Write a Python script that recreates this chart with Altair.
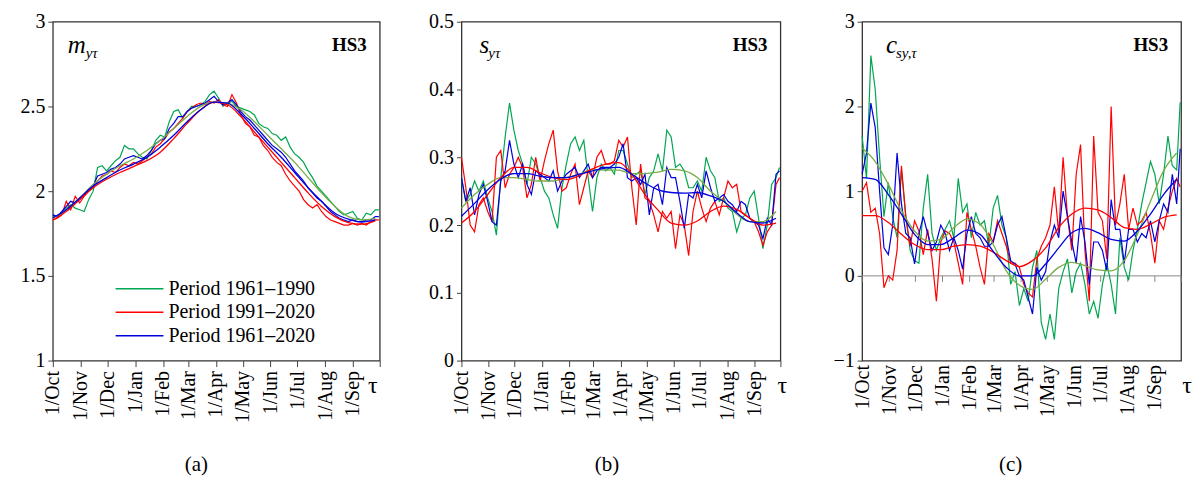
import altair as alt
import pandas as pd

# ---------------- data ----------------
DAYS = list(range(0, 361, 5)) + [364]          # day index from 1 Oct
SM_DAYS = list(range(0, 361, 15))
MONTH_DAYS = [0, 31, 61, 92, 123, 151, 182, 212, 243, 273, 304, 335, 365]
MONTH_LABELS = ["1/Oct", "1/Nov", "1/Dec", "1/Jan", "1/Feb", "1/Mar", "1/Apr",
                "1/May", "1/Jun", "1/Jul", "1/Aug", "1/Sep", ""]
PERIODS = ["Period 1961\u20131990", "Period 1991\u20132020", "Period 1961\u20132020"]

# panel (a) m_y
A_GREEN = [1.86, 1.85, 1.87, 1.90, 1.92, 1.90, 1.89, 1.88, 1.95, 2.00,
           2.14, 2.15, 2.12, 2.15, 2.18, 2.20, 2.27, 2.25, 2.25, 2.22,
           2.20, 2.19, 2.24, 2.30, 2.33, 2.32, 2.41, 2.47, 2.48, 2.43,
           2.47, 2.50, 2.50, 2.51, 2.53, 2.57, 2.59, 2.55, 2.50, 2.52,
           2.53, 2.50, 2.49, 2.48, 2.47, 2.45, 2.40, 2.38, 2.37, 2.34,
           2.33, 2.30, 2.32, 2.26, 2.22, 2.20, 2.17, 2.12, 2.08, 2.03,
           2.00, 1.97, 1.94, 1.91, 1.88, 1.86, 1.87, 1.88, 1.84, 1.83,
           1.87, 1.86, 1.89, 1.89]
A_RED = [1.83, 1.84, 1.86, 1.94, 1.89, 1.97, 1.93, 1.97, 2.00, 2.02,
         2.06, 2.09, 2.10, 2.12, 2.11, 2.14, 2.16, 2.15, 2.17, 2.16,
         2.18, 2.20, 2.22, 2.26, 2.28, 2.31, 2.35, 2.37, 2.40, 2.43,
         2.47, 2.49, 2.51, 2.52, 2.51, 2.53, 2.52, 2.54, 2.51, 2.50,
         2.57, 2.52, 2.45, 2.40, 2.38, 2.33, 2.32, 2.27, 2.24, 2.20,
         2.17, 2.15, 2.10, 2.06, 2.03, 2.00, 1.95, 1.92, 1.90, 1.92,
         1.88, 1.85, 1.83, 1.82, 1.81, 1.80, 1.80, 1.81, 1.80, 1.81,
         1.80, 1.82, 1.83, 1.83]
A_BLUE = [1.86, 1.85, 1.88, 1.91, 1.94, 1.93, 1.95, 1.98, 2.01, 2.03,
          2.09, 2.10, 2.11, 2.13, 2.14, 2.16, 2.19, 2.20, 2.21, 2.20,
          2.19, 2.21, 2.24, 2.28, 2.30, 2.31, 2.37, 2.40, 2.44, 2.44,
          2.47, 2.49, 2.50, 2.51, 2.52, 2.54, 2.56, 2.53, 2.51, 2.52,
          2.54, 2.51, 2.47, 2.44, 2.42, 2.39, 2.36, 2.33, 2.30, 2.27,
          2.25, 2.23, 2.20, 2.16, 2.12, 2.09, 2.06, 2.02, 1.99, 1.96,
          1.94, 1.91, 1.88, 1.86, 1.84, 1.83, 1.82, 1.83, 1.82, 1.82,
          1.83, 1.83, 1.85, 1.85]
A_GREEN_S = [1.84, 1.89, 1.96, 2.04, 2.10, 2.15, 2.19, 2.24, 2.30, 2.37, 2.44, 2.50, 2.525,
             2.52, 2.48, 2.41, 2.33, 2.25, 2.17, 2.08, 1.99, 1.91, 1.85, 1.83, 1.84]
A_RED_S = [1.83, 1.88, 1.95, 2.02, 2.07, 2.11, 2.145, 2.18, 2.23, 2.31, 2.40, 2.48, 2.525,
           2.51, 2.44, 2.35, 2.26, 2.17, 2.08, 1.99, 1.91, 1.85, 1.815, 1.805, 1.825]
A_BLUE_S = [1.843, 1.89, 1.96, 2.03, 2.08, 2.125, 2.16, 2.20, 2.26, 2.33, 2.41, 2.48, 2.525,
            2.52, 2.455, 2.37, 2.28, 2.20, 2.11, 2.02, 1.94, 1.87, 1.835, 1.818, 1.83]

# panel (b) s_y
B_GREEN = [0.27, 0.235, 0.245, 0.265, 0.25, 0.265, 0.24, 0.22, 0.185, 0.27,
           0.33, 0.38, 0.34, 0.31, 0.29, 0.26, 0.30, 0.29, 0.27, 0.25,
           0.24, 0.215, 0.195, 0.255, 0.29, 0.32, 0.33, 0.31, 0.325, 0.27,
           0.22, 0.27, 0.29, 0.28, 0.285, 0.275, 0.31, 0.31, 0.29, 0.27,
           0.275, 0.28, 0.245, 0.27, 0.28, 0.305, 0.28, 0.34, 0.33, 0.285,
           0.29, 0.28, 0.255, 0.255, 0.265, 0.25, 0.30, 0.28, 0.27, 0.235,
           0.24, 0.225, 0.22, 0.19, 0.21, 0.215, 0.24, 0.25, 0.21, 0.165,
           0.20, 0.26, 0.27, 0.285]
B_RED = [0.30, 0.255, 0.20, 0.19, 0.23, 0.24, 0.22, 0.205, 0.30, 0.31,
         0.255, 0.275, 0.285, 0.30, 0.285, 0.24, 0.26, 0.30, 0.265, 0.295,
         0.32, 0.34, 0.28, 0.25, 0.255, 0.275, 0.29, 0.23, 0.255, 0.28,
         0.27, 0.30, 0.31, 0.29, 0.29, 0.295, 0.325, 0.315, 0.33, 0.255,
         0.20, 0.29, 0.24, 0.235, 0.215, 0.19, 0.22, 0.21, 0.22, 0.165,
         0.215, 0.20, 0.155, 0.22, 0.25, 0.225, 0.205, 0.225, 0.235, 0.215,
         0.24, 0.265, 0.255, 0.26, 0.22, 0.215, 0.21, 0.205, 0.19, 0.17,
         0.19, 0.20, 0.26, 0.27]
B_BLUE = [0.27, 0.235, 0.255, 0.215, 0.245, 0.26, 0.235, 0.205, 0.20, 0.265,
          0.28, 0.325, 0.29, 0.27, 0.29, 0.26, 0.245, 0.28, 0.275, 0.27,
          0.265, 0.28, 0.25, 0.265, 0.275, 0.28, 0.285, 0.27, 0.28, 0.29,
          0.27, 0.28, 0.285, 0.285, 0.285, 0.29, 0.30, 0.32, 0.27, 0.265,
          0.27, 0.26, 0.275, 0.215, 0.255, 0.26, 0.23, 0.285, 0.27, 0.27,
          0.235, 0.195, 0.245, 0.24, 0.26, 0.24, 0.28, 0.255, 0.235, 0.24,
          0.245, 0.235, 0.23, 0.22, 0.235, 0.23, 0.21, 0.205, 0.20, 0.18,
          0.21, 0.20, 0.275, 0.28]
B_GREEN_S = [0.225, 0.245, 0.26, 0.27, 0.27, 0.267, 0.265, 0.265, 0.27, 0.275, 0.282, 0.281, 0.281,
             0.276, 0.276, 0.278, 0.282, 0.28, 0.27, 0.25, 0.235, 0.216, 0.205, 0.205, 0.22]
B_RED_S = [0.203, 0.22, 0.245, 0.27, 0.285, 0.285, 0.277, 0.27, 0.267, 0.273, 0.283, 0.29, 0.292,
           0.275, 0.245, 0.222, 0.203, 0.20, 0.206, 0.22, 0.228, 0.223, 0.21, 0.20, 0.203]
B_BLUE_S = [0.213, 0.232, 0.252, 0.268, 0.276, 0.276, 0.272, 0.27, 0.27, 0.275, 0.28, 0.284, 0.285,
            0.275, 0.262, 0.252, 0.248, 0.247, 0.248, 0.243, 0.235, 0.218, 0.205, 0.203, 0.21]

# panel (c) c_sy
C_GREEN = [1.65, 1.15, 2.6, 2.2, 1.4, 0.7, 1.1, 0.7, 0.45, 1.25,
           0.7, 0.3, 0.18, 0.15, 0.8, 1.2, 0.5, 0.3, 0.45, 0.55,
           0.65, 0.45, 1.15, 0.75, 0.85, 0.45, 0.75, 0.6, 0.65, 0.35,
           0.8, 0.95, 0.6, 0.45, -0.1, 0.05, -0.35, -0.15, -0.3, 0.1,
           0.3, -0.55, -0.75, -0.45, -0.75, -0.15, 0.05, 0.2, -0.2, 0.05,
           0.15, -0.1, -0.45, -0.3, -0.5, -0.1, 0.15, -0.1, -0.45, 0.45,
           0.1, -0.05, 0.3, 0.55, 0.85, 1.1, 1.35, 1.2, 0.85, 1.2,
           1.65, 1.3, 1.25, 2.05]
C_RED = [1.0, 1.1, 0.75, 0.8, 0.5, -0.14, 0.0, -0.05, 0.3, 1.3,
         0.7, 0.35, 0.65, 0.53, 0.25, 0.55, 0.2, -0.3, 0.4, 0.53,
         0.5, 0.4, 0.15, -0.1, 0.75, 0.55, 0.35, 0.1, -0.1, 0.5,
         0.4, 0.65, 0.5, 0.35, 0.15, 0.15, 0.1, -0.1, -0.2, -0.25,
         0.2, 0.35, 0.45, 0.6, 1.05, 0.5, 1.4, 0.7, 0.3, 1.2,
         1.55, 0.3, -0.3, 1.65, 0.75, 0.65, 0.2, 2.0, 0.6, 0.85,
         1.2, 0.55, 0.8, 0.6, 0.65, 0.75, 0.5, 0.15, 0.65, 0.55,
         0.8, 1.0, 1.15, 1.05]
C_BLUE = [1.2, 1.45, 2.04, 1.75, 1.0, 0.33, 0.25, 0.6, 1.45, 0.85,
          0.5, 0.45, 0.14, 0.5, 0.7, 0.5, 0.3, 0.4, 0.6, 0.5,
          0.3, 0.45, 0.3, 0.08, 0.5, 0.7, 0.5, 0.45, 0.35, 0.35,
          0.4, 0.6, 0.7, 0.45, 0.18, 0.14, 0.0, -0.05, -0.25, -0.45,
          0.1, -0.05, 0.05, 0.4, 0.6, 0.45, 1.0, 0.7, 0.4, 0.15,
          0.7, 0.4, -0.1, 0.4, 0.4, 0.3, 0.06, 0.9, 0.55, 0.55,
          0.15, 0.55, 0.55, 0.4, 0.5, 0.45, 0.65, 0.4, 0.65, 0.85,
          0.75, 1.2, 0.85, 1.5]
C_GREEN_S = [1.51, 1.35, 1.08, 0.77, 0.53, 0.41, 0.43, 0.57, 0.67, 0.61, 0.37, 0.06, -0.11,
             -0.16, -0.04, 0.10, 0.16, 0.12, 0.07, 0.06, 0.18, 0.49, 0.88, 1.24, 1.45]
C_RED_S = [0.71, 0.71, 0.63, 0.49, 0.37, 0.31, 0.31, 0.35, 0.37, 0.35, 0.28, 0.18, 0.11,
           0.18, 0.33, 0.57, 0.73, 0.80, 0.78, 0.69, 0.57, 0.55, 0.61, 0.69, 0.72]
C_BLUE_S = [1.16, 1.14, 0.96, 0.73, 0.49, 0.37, 0.37, 0.45, 0.54, 0.49, 0.29, 0.10, 0.0,
            0.0, 0.14, 0.33, 0.51, 0.56, 0.51, 0.43, 0.41, 0.53, 0.73, 0.96, 1.14]

# ---------------- styling ----------------
SERIF = "Liberation Serif, Times New Roman, DejaVu Serif, serif"
NOISY_COLORS = ["#00A651", "#FF0000", "#0000DD"]
SMOOTH_COLORS = ["#78AC48", "#FF0000", "#0000DD"]
H = 340
LAB = 20

label_expr = "[" + ",".join("'%s'" % s for s in MONTH_LABELS) + "][indexof([" + \
    ",".join(str(d) for d in MONTH_DAYS) + "], datum.value)]"


def txt(s, x, y, size, style="normal", weight="normal", align="left", baseline="alphabetic", font=SERIF):
    return alt.Chart(pd.DataFrame({"t": [s]})).mark_text(
        align=align, baseline=baseline, fontSize=size, font=font,
        fontStyle=style, fontWeight=weight, color="black"
    ).encode(x=alt.value(x), y=alt.value(y), text="t:N")


def panel(width, noisy, smooth, ydom, yticks, sym, sub, sym_x, sub_x, caption, cap_x, tau_x,
          zero_line=False, legend=False):
    xaxis = alt.Axis(values=MONTH_DAYS, labelExpr=label_expr, labelAngle=-90, title=None,
                     grid=False, domain=False, tickSize=6, ticks=not zero_line,
                     labelPadding=4, labelFontSize=LAB, labelAlign="right",
                     labelBaseline="middle")
    yaxis = alt.Axis(values=yticks, format="~g", title=None, grid=False, domain=False,
                     tickSize=5, labelPadding=3, labelFontSize=LAB)
    X = alt.X("day:Q", scale=alt.Scale(domain=[0, 365], nice=False, zero=False), axis=xaxis)
    Y = alt.Y("value:Q", scale=alt.Scale(domain=ydom, nice=False, zero=False), axis=yaxis)
    layers = []
    if zero_line:
        layers.append(alt.Chart(pd.DataFrame({"value": [0]})).mark_rule(
            color="#888888", strokeWidth=1).encode(y=Y))
        layers.append(alt.Chart(pd.DataFrame({"day": MONTH_DAYS, "value": [0] * len(MONTH_DAYS)})).mark_rule(
            color="#888888", strokeWidth=1, y2Offset=6).encode(x=X, y=Y, y2="value:Q"))
    for vals, col in zip(noisy, NOISY_COLORS):
        df = pd.DataFrame({"day": DAYS, "value": vals})
        layers.append(alt.Chart(df).mark_line(color=col, strokeWidth=1.2).encode(x=X, y=Y))
    for vals, col in zip(smooth, SMOOTH_COLORS):
        df = pd.DataFrame({"day": SM_DAYS, "value": vals})
        layers.append(alt.Chart(df).mark_line(color=col, strokeWidth=1.3,
                                              interpolate="monotone").encode(x=X, y=Y))
    # annotations
    layers.append(txt(sym, sym_x, 31, 25, style="italic"))
    layers.append(txt(sub, sub_x, 36, 15, style="italic"))
    layers.append(txt("HS3", width - 13, 29, 19, weight="bold", align="right"))
    layers.append(txt("\u03c4", tau_x, 366, 24, align="center", baseline="middle"))
    layers.append(txt(caption, cap_x, 445, 21, align="center", baseline="middle"))
    if legend:
        for i, (p, col) in enumerate(zip(PERIODS, NOISY_COLORS)):
            yy = 268 + i * 23.5
            layers.append(alt.Chart(pd.DataFrame({"p": [p]})).mark_rule(color=col, strokeWidth=1.5)
                          .encode(x=alt.value(63), x2=alt.value(111), y=alt.value(yy)))
            layers.append(txt(p, 116, yy, 20, baseline="middle"))
    return alt.layer(*layers).properties(width=width, height=H)


pa = panel(328, [A_GREEN, A_RED, A_BLUE], [A_GREEN_S, A_RED_S, A_BLUE_S],
           [1, 3], [1, 1.5, 2, 2.5, 3], "m", "y\u03c4", 15, 33, "(a)", 144, 321, legend=True)
pb = panel(320, [B_GREEN, B_RED, B_BLUE], [B_GREEN_S, B_RED_S, B_BLUE_S],
           [0, 0.5], [0, 0.1, 0.2, 0.3, 0.4, 0.5], "s", "y\u03c4", 18, 27, "(b)", 146, 322)
pc = panel(320, [C_GREEN, C_RED, C_BLUE], [C_GREEN_S, C_RED_S, C_BLUE_S],
           [-1, 3], [-1, 0, 1, 2, 3], "c", "sy,\u03c4", 24, 34, "(c)", 149, 326, zero_line=True)

chart = alt.hconcat(pa, pb, pc, spacing=82, bounds="flush").properties(
    padding={"left": 19, "top": 10, "right": 5, "bottom": 0}
).configure_axis(
    labelFont=SERIF, labelColor="black", tickColor="#444444", tickWidth=1
).configure_view(stroke="#333333", strokeWidth=1.3)

chart.save("out.html", embed_options={"renderer": "svg", "actions": False})
